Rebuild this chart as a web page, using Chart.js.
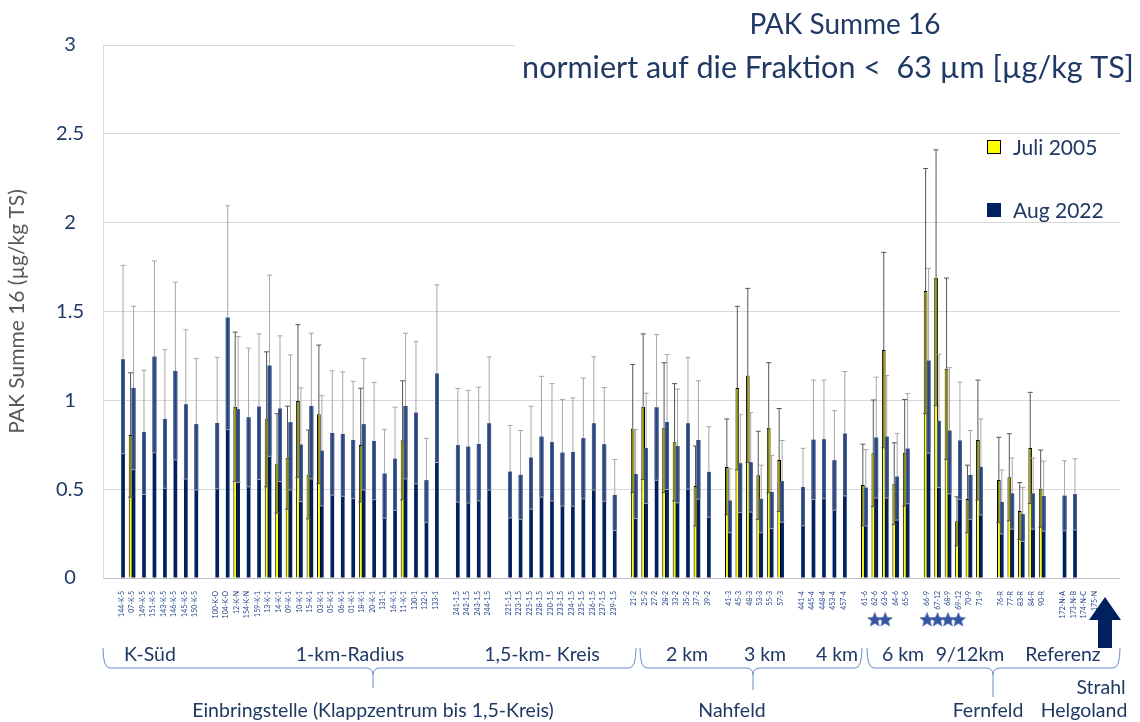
<!DOCTYPE html>
<html>
<head>
<meta charset="utf-8">
<script src="https://cdn.jsdelivr.net/npm/chart.js@4.4.0/dist/chart.umd.min.js"></script>
<style>
  html, body { margin: 0; padding: 0; background: #fff; }
  #wrap { width: 1140px; height: 722px; position: relative; }
</style>
</head>
<body>
<div id="wrap"><canvas id="myChart"></canvas></div>
<script>
// stations in plot order, '' = empty slot between groups
const stations = [
  '144-K-5', '07-K-5', '149-K-5', '151-K-5', '143-K-5', '146-K-5', '145-K-5', '150-K-5', '',
  '100-K-O', '104-K-O', '12-K-N', '154-K-N', '159-K-1', '13-K-1', '14-K-1', '09-K-1', '10-K-1', '15-K-1',
  '03-K-1', '05-K-1', '06-K-1', '01-K-1', '18-K-1', '20-K-1', '131-1', '16-K-1', '11-K-1', '130-1', '132-1', '133-1', '',
  '241-1,5', '242-1,5', '243-1,5', '244-1,5', '',
  '221-1,5', '223-1,5', '225-1,5', '228-1,5', '230-1,5', '233-1,5', '234-1,5', '235-1,5', '236-1,5', '237-1,5', '239-1,5', '',
  '21-2', '25-2', '27-2', '28-2', '33-2', '35-2', '37-2', '39-2', '',
  '41-3', '45-3', '48-3', '53-3', '55-3', '57-3', '',
  '441-4', '445-4', '448-4', '453-4', '457-4', '',
  '61-6', '62-6', '63-6', '64-6', '65-6', '',
  '66-9', '67-12', '68-9', '69-12', '70-9', '71-9', '',
  '76-R', '77-R', '83-R', '84-R', '90-R', '',
  '172-N-A', '173-N-B', '174-N-C', '175-N'
];

const juli2005 = [
  null, 0.805, null, null, null, null, null, null, null,
  null, null, 0.964, null, null, 0.893, 0.645, 0.677, 0.996, 0.583,
  0.921, null, null, null, 0.748, null, null, null, 0.775, null, null, null, null,
  null, null, null, null, null,
  null, null, null, null, null, null, null, null, null, null, null, null,
  0.842, 0.964, null, 0.846, 0.764, null, 0.518, null, null,
  0.625, 1.069, 1.14, 0.578, 0.846, 0.664, null,
  null, null, null, null, null, null,
  0.523, 0.702, 1.283, 0.531, 0.705, null,
  1.615, 1.69, 1.178, 0.319, 0.445, 0.777, null,
  0.552, 0.567, 0.377, 0.732, 0.503, null,
  null, null, null, null
];
const juli2005Sd = [
  null, 0.35, null, null, null, null, null, null, null,
  null, null, 0.42, null, null, 0.38, 0.28, 0.29, 0.43, 0.25,
  0.39, null, null, null, 0.32, null, null, null, 0.335, null, null, null, null,
  null, null, null, null, null,
  null, null, null, null, null, null, null, null, null, null, null, null,
  0.36, 0.41, null, 0.366, 0.33, null, 0.225, null, null,
  0.27, 0.46, 0.49, 0.248, 0.366, 0.29, null,
  null, null, null, null, null, null,
  0.23, 0.30, 0.55, 0.23, 0.30, null,
  0.69, 0.72, 0.51, 0.138, 0.19, 0.337, null,
  0.24, 0.245, 0.16, 0.313, 0.217, null,
  null, null, null, null
];

const aug2022 = [
  1.23, 1.07, 0.82, 1.245, 0.895, 1.165, 0.977, 0.865, null,
  0.872, 1.465, 0.949, 0.904, 0.964, 1.195, 0.953, 0.876, 0.75, 0.968,
  0.716, 0.816, 0.81, 0.777, 0.865, 0.771, 0.587, 0.671, 0.968, 0.93, 0.55, 1.15, null,
  0.747, 0.739, 0.754, 0.87, null,
  0.598, 0.58, 0.677, 0.795, 0.764, 0.705, 0.709, 0.786, 0.87, 0.752, 0.467, null,
  0.585, 0.73, 0.96, 0.878, 0.743, 0.87, 0.777, 0.597, null,
  0.435, 0.645, 0.651, 0.445, 0.484, 0.544, null,
  0.512, 0.778, 0.78, 0.662, 0.812, null,
  0.508, 0.79, 0.795, 0.57, 0.728, null,
  1.223, 0.884, 0.829, 0.773, 0.58, 0.625, null,
  0.428, 0.475, 0.358, 0.475, 0.461, null,
  0.463, 0.471, null, null
];
const aug2022Sd = [
  0.53, 0.46, 0.35, 0.54, 0.39, 0.50, 0.42, 0.37, null,
  0.37, 0.63, 0.41, 0.39, 0.41, 0.51, 0.41, 0.38, 0.32, 0.41,
  0.31, 0.35, 0.35, 0.33, 0.37, 0.33, 0.25, 0.29, 0.41, 0.40, 0.236, 0.50, null,
  0.32, 0.317, 0.32, 0.375, null,
  0.26, 0.25, 0.29, 0.34, 0.33, 0.30, 0.305, 0.34, 0.375, 0.32, 0.20, null,
  0.25, 0.31, 0.41, 0.38, 0.32, 0.37, 0.333, 0.255, null,
  0.18, 0.276, 0.28, 0.19, 0.206, 0.23, null,
  0.218, 0.336, 0.334, 0.28, 0.35, null,
  0.215, 0.34, 0.345, 0.244, 0.31, null,
  0.52, 0.375, 0.355, 0.33, 0.25, 0.27, null,
  0.18, 0.20, 0.152, 0.20, 0.197, null,
  0.197, 0.20, null, null
];

// stations marked with a star below the axis
const starred = ['62-6', '63-6', '66-9', '67-12', '68-9', '69-12'];

const groupLabels = ['K-Süd', '1-km-Radius', '1,5-km- Kreis', '2 km', '3 km', '4 km', '6 km', '9/12km', 'Referenz'];
const areaLabels = ['Einbringstelle (Klappzentrum bis 1,5-Kreis)', 'Nahfeld', 'Fernfeld'];

const navy = '#002060';
const textNavy = '#1f3864';
const fontFamily = 'Lato, "Open Sans", sans-serif';
Chart.defaults.font.family = fontFamily;

function toPoints(values) {
  return values.map((v, i) => ({ x: i, y: v }));
}

// error bars: lighter band inside the bar down to value-sd, whisker up to value+sd
const errorBars = {
  id: 'errorBars',
  afterDatasetsDraw(chart) {
    const ctx = chart.ctx;
    const yScale = chart.scales.y;
    [1, 0].forEach(di => {
      const ds = chart.data.datasets[di];
      const meta = chart.getDatasetMeta(di);
      meta.data.forEach((bar, i) => {
        const v = ds.data[i].y;
        const e = ds.errors[i];
        if (v == null || e == null) return;
        const top = yScale.getPixelForValue(v);
        const lo = yScale.getPixelForValue(v - e);
        const hi = yScale.getPixelForValue(v + e);
        const left = bar.x - bar.width / 2;
        ctx.save();
        ctx.fillStyle = ds.bandColor;
        if (di === 0) {
          ctx.fillRect(left + 1, top + 1, bar.width - 2, lo - top - 1);
        } else {
          ctx.fillRect(left, top, bar.width, lo - top);
          ctx.strokeStyle = 'rgba(140,150,175,0.6)';
          ctx.lineWidth = 0.7;
          ctx.beginPath();
          ctx.moveTo(left + 0.4, top);
          ctx.lineTo(left + 0.4, lo);
          ctx.moveTo(left + bar.width - 0.4, top);
          ctx.lineTo(left + bar.width - 0.4, lo);
          ctx.stroke();
        }
        ctx.strokeStyle = ds.whiskerColor;
        ctx.lineWidth = 1;
        ctx.beginPath();
        ctx.moveTo(bar.x, top);
        ctx.lineTo(bar.x, hi);
        ctx.moveTo(bar.x - 2.5, hi);
        ctx.lineTo(bar.x + 2.5, hi);
        ctx.moveTo(bar.x - 2.5, lo);
        ctx.lineTo(bar.x + 2.5, lo);
        ctx.stroke();
        ctx.restore();
      });
    });
  }
};

function drawBrace(ctx, x0, x1, xm, yTop, yMid, yTip) {
  const r = 7;
  ctx.beginPath();
  ctx.moveTo(x0, yTop);
  ctx.quadraticCurveTo(x0, yMid, x0 + r, yMid);
  ctx.lineTo(xm - r, yMid);
  ctx.quadraticCurveTo(xm, yMid, xm, yMid + r);
  ctx.lineTo(xm, yTip);
  ctx.moveTo(xm, yMid + r);
  ctx.quadraticCurveTo(xm, yMid, xm + r, yMid);
  ctx.lineTo(x1 - r, yMid);
  ctx.quadraticCurveTo(x1, yMid, x1, yTop);
  ctx.stroke();
}

function drawStar(ctx, cx, cy, R) {
  const r = R * 0.45;
  ctx.beginPath();
  for (let k = 0; k < 10; k++) {
    const rad = k % 2 === 0 ? R : r;
    const a = -Math.PI / 2 + k * Math.PI / 5;
    const px = cx + rad * Math.cos(a), py = cy + rad * Math.sin(a);
    if (k === 0) ctx.moveTo(px, py); else ctx.lineTo(px, py);
  }
  ctx.closePath();
  ctx.fill();
  ctx.stroke();
}

const decorations = {
  id: 'decorations',
  afterDraw(chart) {
    const ctx = chart.ctx;
    const xScale = chart.scales.x;
    ctx.save();

    // title box
    ctx.fillStyle = '#fff';
    ctx.fillRect(515, 0, 625, 95);
    ctx.fillStyle = textNavy;
    ctx.textAlign = 'center';
    ctx.textBaseline = 'middle';
    ctx.font = '28px ' + fontFamily;
    ctx.fillText('PAK Summe 16', 845, 25);
    ctx.font = '30.5px ' + fontFamily;
    ctx.fillText('normiert auf die Fraktion <  63 µm [µg/kg TS]', 828, 68);

    // legend
    ctx.textAlign = 'left';
    ctx.font = '21px ' + fontFamily;
    ctx.fillStyle = '#ffff00';
    ctx.fillRect(987, 140, 14, 14);
    ctx.strokeStyle = '#000';
    ctx.lineWidth = 1;
    ctx.strokeRect(987.5, 140.5, 13, 13);
    ctx.fillStyle = navy;
    ctx.fillRect(987, 203, 14, 14);
    ctx.fillStyle = textNavy;
    ctx.fillText('Juli 2005', 1013, 148);
    ctx.fillText('Aug 2022', 1013, 211);

    // stars under stations
    ctx.fillStyle = '#34559f';
    ctx.strokeStyle = '#6f88c0';
    ctx.lineWidth = 0.8;
    starred.forEach(name => {
      const px = xScale.getPixelForValue(stations.indexOf(name));
      drawStar(ctx, px, 620, 7.5);
    });

    // arrow pointing at the Strahl station
    ctx.fillStyle = navy;
    ctx.beginPath();
    ctx.moveTo(1105, 597);
    ctx.lineTo(1121, 620);
    ctx.lineTo(1112, 620);
    ctx.lineTo(1112, 648);
    ctx.lineTo(1098, 648);
    ctx.lineTo(1098, 620);
    ctx.lineTo(1089, 620);
    ctx.closePath();
    ctx.fill();

    // braces
    ctx.strokeStyle = '#6a8ccc';
    ctx.lineWidth = 1;
    drawBrace(ctx, 103, 636, 373, 648, 668, 688);
    drawBrace(ctx, 640, 862, 753, 648, 668, 690);
    drawBrace(ctx, 867, 1120, 993, 648, 668, 697);

    // group labels
    ctx.fillStyle = textNavy;
    ctx.textAlign = 'center';
    ctx.font = '19.5px ' + fontFamily;
    const groupX = [150, 350, 542, 687, 765, 837, 903, 970, 1063];
    groupLabels.forEach((t, k) => ctx.fillText(t, groupX[k], 655));
    const areaX = [373, 732, 988];
    areaLabels.forEach((t, k) => ctx.fillText(t, areaX[k], 711));
    ctx.fillText('Strahl', 1101, 688);
    ctx.fillText('Helgoland', 1084, 711);

    ctx.restore();
  }
};

const ctx = document.getElementById('myChart').getContext('2d');
new Chart(ctx, {
  type: 'bar',
  data: {
    datasets: [{
        label: 'Juli 2005',
        data: toPoints(juli2005),
        errors: juli2005Sd,
        backgroundColor: '#ffff00',
        borderColor: '#000',
        borderWidth: 1,
        bandColor: '#85851c',
        whiskerColor: '#555'
      },
      {
        label: 'Aug 2022',
        data: toPoints(aug2022),
        errors: aug2022Sd,
        backgroundColor: navy,
        borderWidth: 0,
        bandColor: '#26447f',
        whiskerColor: '#a6a6a6'
      }
    ]
  },
  options: {
    responsive: true,
    maintainAspectRatio: false,
    animation: false,
    categoryPercentage: 0.6,
    barPercentage: 1.25,
    layout: { padding: { top: 45, right: 20, bottom: 0, left: 0 } },
    plugins: {
      legend: { display: false },
      tooltip: { enabled: false }
    },
    scales: {
      x: {
        type: 'linear',
        min: -1.277,
        max: 94.94,
        grid: { display: false },
        border: { display: false },
        ticks: {
          stepSize: 1,
          autoSkip: false,
          minRotation: 90,
          maxRotation: 90,
          padding: 5,
          color: '#24468c',
          font: { size: 7 },
          callback: v => Number.isInteger(v) ? (stations[v] || '') : ''
        },
        afterFit: s => { s.height = 144; }
      },
      y: {
        min: 0,
        max: 3,
        grid: {
          color: c => c.tick && c.tick.value === 0 ? '#bfbfbf' : '#d9d9d9',
          drawTicks: false
        },
        border: { display: true, color: '#d9d9d9' },
        ticks: {
          stepSize: 0.5,
          crossAlign: 'center',
          padding: 19,
          color: textNavy,
          font: { size: 20 },
          callback: v => String(v)
        },
        title: {
          display: true,
          text: 'PAK Summe 16 (µg/kg TS)',
          color: '#595959',
          font: { size: 21 },
          padding: { top: 5, bottom: 0 }
        },
        afterFit: s => { s.width = 103; }
      }
    }
  },
  plugins: [errorBars, decorations]
});
</script>
</body>
</html>
